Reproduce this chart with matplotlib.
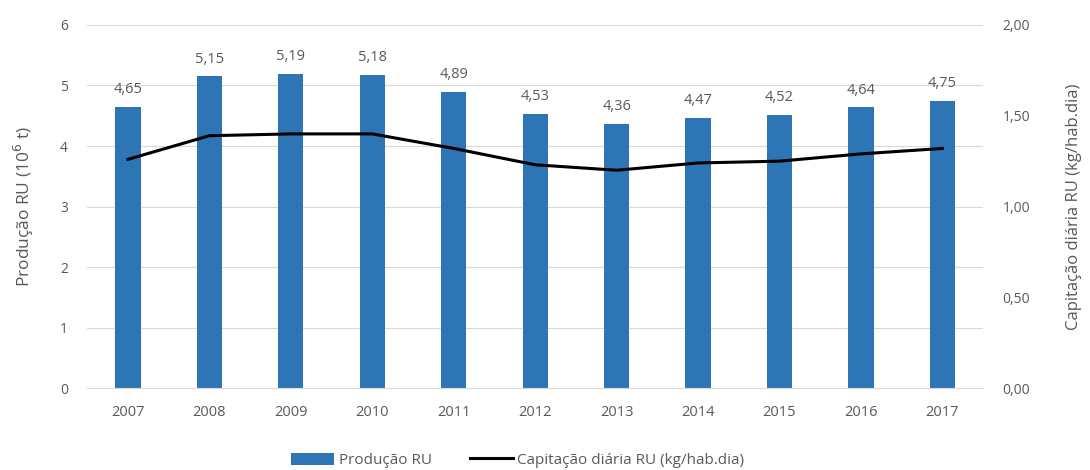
import numpy as np
import matplotlib.pyplot as plt
from matplotlib.ticker import FuncFormatter

plt.rcParams['font.family'] = ['Open Sans', 'DejaVu Sans']

# ---------------------------------------------------------
# Data
# ---------------------------------------------------------
years = ['2007', '2008', '2009', '2010', '2011', '2012',
         '2013', '2014', '2015', '2016', '2017']
producao = [4.65, 5.15, 5.19, 5.18, 4.89, 4.53, 4.36, 4.47, 4.52, 4.64, 4.75]
capitacao = [1.26, 1.39, 1.40, 1.40, 1.32, 1.23, 1.20, 1.24, 1.25, 1.29, 1.32]

grey = '#595959'
blue = '#2E75B6'

# ---------------------------------------------------------
# Plot
# ---------------------------------------------------------
fig = plt.figure(figsize=(10.9, 4.7), dpi=100)
ax = fig.add_axes([0.08, 0.174, 0.822, 0.773])
ax2 = ax.twinx()

x = np.arange(len(years))
bars = ax.bar(x, producao, width=0.31, color=blue, label='Produção RU', zorder=2)
for xi, v in zip(x, producao):
    ax.annotate(f'{v:.2f}'.replace('.', ','), (xi, v), xytext=(0, 7),
                textcoords='offset points', ha='center', va='bottom',
                fontsize=10.5, color=grey)

line, = ax2.plot(x, capitacao, color='black', lw=2.2,
                 label='Capitação diária RU (kg/hab.dia)', zorder=3)

ax.set_xlim(-0.5, len(years) - 0.5)
ax.set_ylim(0, 6)
ax.set_yticks(range(0, 7))
ax2.set_ylim(0, 2)
ax2.set_yticks([0, 0.5, 1.0, 1.5, 2.0])
ax2.yaxis.set_major_formatter(FuncFormatter(lambda v, p: f'{v:.2f}'.replace('.', ',')))

ax.set_xticks(x)
ax.set_xticklabels(years)
ax.grid(axis='y', color='#d9d9d9', lw=0.8, zorder=0)
ax.set_axisbelow(True)

for a in (ax, ax2):
    for s in a.spines.values():
        s.set_visible(False)
    a.tick_params(length=0, colors=grey, labelsize=10)
ax.spines['bottom'].set_visible(True)
ax.spines['bottom'].set_color('#d9d9d9')
ax.tick_params(axis='y', pad=14)
ax2.tick_params(axis='y', pad=14)
ax.tick_params(axis='x', pad=12, labelsize=10.5)

ax.set_ylabel('Produção RU (10$^6$ t)', color=grey, fontsize=12.5, labelpad=17)
ax2.set_ylabel('Capitação diária RU (kg/hab.dia)', color=grey, fontsize=12, labelpad=26)

fig.legend([bars, line], ['Produção RU', 'Capitação diária RU (kg/hab.dia)'],
           loc='lower center', bbox_to_anchor=(0.475, -0.025), ncol=2, frameon=False,
           fontsize=11, labelcolor=grey, handlelength=2.8, handleheight=0.8,
           handletextpad=0.3, columnspacing=2.5)

fig.savefig('out.png', dpi=100)
